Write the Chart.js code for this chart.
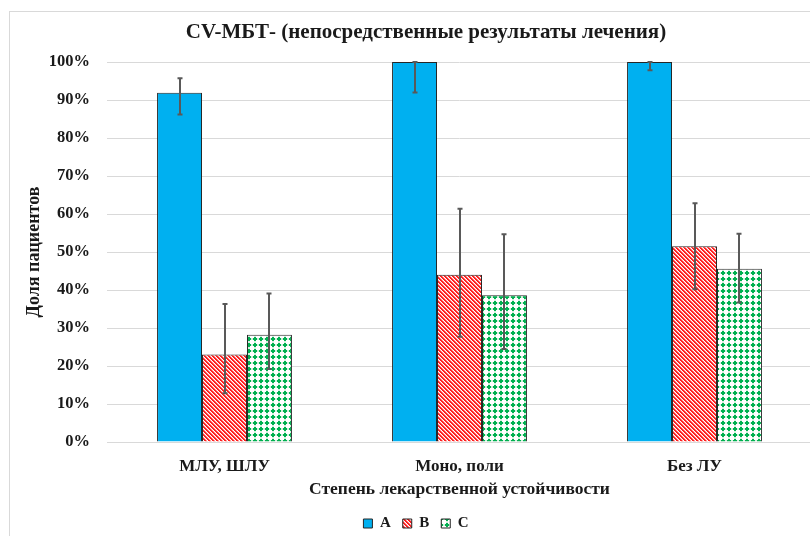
<!DOCTYPE html>
<html>
<head>
<meta charset="utf-8">
<script src="https://cdn.jsdelivr.net/npm/chart.js@4/dist/chart.umd.min.js"></script>
<style>
  html, body { margin: 0; padding: 0; background: #fff; overflow: hidden; width: 810px; height: 536px; }
  #frame { position: absolute; left: 9px; top: 11px; width: 900px; height: 600px;
           border-left: 1px solid #d9d9d9; border-top: 1px solid #d9d9d9; }
  #wrap { position: absolute; left: 0; top: 0; width: 815px; height: 536px; }
</style>
</head>
<body>
<div id="frame"></div>
<div id="wrap"><canvas id="chart" width="815" height="536"></canvas></div>
<script>
// Treatment outcome shares by drug-resistance group
const categories = ['МЛУ, ШЛУ', 'Моно, поли', 'Без ЛУ'];
const seriesNames = ['A', 'B', 'C'];

const valuesA = [91.9, 100, 100];
const valuesB = [23.0, 44.0, 51.5];
const valuesC = [28.2, 38.6, 45.6];

// confidence interval bounds, %
const lowA  = [86.2, 92.0, 97.8];
const highA = [95.7, 100, 100];
const lowB  = [12.8, 27.7, 40.2];
const highB = [36.3, 61.4, 62.8];
const lowC  = [19.2, 24.5, 36.7];
const highC = [39.1, 54.7, 54.8];

const yTicks = [0, 10, 20, 30, 40, 50, 60, 70, 80, 90, 100];

const titleText = 'CV-МБТ- (непосредственные результаты лечения)';
const yTitle = 'Доля пациентов';
const xTitle = 'Степень лекарственной устойчивости';

const FONT = "'Liberation Serif', 'Times New Roman', serif";
const INK = '#1a1a1a';

// hatch fills
function stripePattern() {
  const c = document.createElement('canvas');
  c.width = 8; c.height = 8;
  const g = c.getContext('2d');
  g.fillStyle = '#ffffff';
  g.fillRect(0, 0, 8, 8);
  for (let y = 0; y < 8; y++) {
    for (let x = 0; x < 8; x++) {
      const k = (((x - y) % 4) + 4) % 4;
      if (k < 2) { g.fillStyle = '#ff2020'; g.fillRect(x, y, 1, 1); }
      else if (k === 2) { g.fillStyle = '#ff9c9c'; g.fillRect(x, y, 1, 1); }
    }
  }
  return g.createPattern(c, 'repeat');
}
function dotPattern() {
  const c = document.createElement('canvas');
  c.width = 6; c.height = 6;
  const g = c.getContext('2d');
  g.fillStyle = '#ffffff';
  g.fillRect(0, 0, 6, 6);
  g.fillStyle = '#d6f0df';
  g.fillRect(0, 2, 6, 2);
  g.fillRect(2, 0, 2, 6);
  g.fillStyle = '#00b050';
  g.fillRect(1, 2, 4, 2);
  g.fillRect(2, 1, 2, 4);
  return g.createPattern(c, 'repeat');
}

const lows = [lowA, lowB, lowC];
const highs = [highA, highB, highC];

// whiskers for the intervals
const errorBars = {
  id: 'errorBars',
  afterDatasetsDraw(chart) {
    const ctx = chart.ctx;
    const y = chart.scales.y;
    ctx.save();
    ctx.strokeStyle = '#595959';
    ctx.lineWidth = 2;
    chart.data.datasets.forEach((ds, i) => {
      const meta = chart.getDatasetMeta(i);
      meta.data.forEach((bar, j) => {
        const x = Math.round(bar.x);
        const yl = y.getPixelForValue(lows[i][j]);
        const yh = y.getPixelForValue(highs[i][j]);
        ctx.beginPath();
        ctx.moveTo(x, yh); ctx.lineTo(x, yl);
        ctx.moveTo(x - 2.5, yh); ctx.lineTo(x + 2.5, yh);
        ctx.moveTo(x - 2.5, yl); ctx.lineTo(x + 2.5, yl);
        ctx.stroke();
      });
    });
    ctx.restore();
  }
};

const chartTitle = {
  id: 'chartTitle',
  afterDraw(chart) {
    const ctx = chart.ctx;
    ctx.save();
    ctx.font = 'bold 21px ' + FONT;
    ctx.fillStyle = INK;
    ctx.textAlign = 'center';
    ctx.textBaseline = 'middle';
    ctx.fillText(titleText, 426, 33);
    ctx.restore();
  }
};

const fills = ['#00b0f0', stripePattern(), dotPattern()];
const seriesValues = [valuesA, valuesB, valuesC];

new Chart(document.getElementById('chart'), {
  type: 'bar',
  data: {
    labels: categories,
    datasets: seriesNames.map((name, i) => ({
      label: name,
      data: seriesValues[i],
      backgroundColor: fills[i],
      borderColor: '#262626',
      borderWidth: 1,
      categoryPercentage: 0.574,
      barPercentage: 1
    }))
  },
  options: {
    responsive: false,
    animation: false,
    layout: { padding: { top: 62, left: 20, right: 3, bottom: -5 } },
    plugins: {
      title: { display: false },
      tooltip: { enabled: false },
      legend: {
        position: 'bottom',
        labels: {
          boxWidth: 9, boxHeight: 9, padding: 12,
          color: INK,
          font: { family: FONT, size: 15, weight: 'bold' }
        }
      }
    },
    scales: {
      x: {
        grid: { display: false, drawTicks: false },
        border: { display: true, color: '#d9d9d9' },
        ticks: { color: INK, padding: 14, font: { family: FONT, size: 17, weight: 'bold' } },
        title: { display: true, text: xTitle, color: INK, padding: { top: 2, bottom: 4 },
                 font: { family: FONT, size: 17.5, weight: 'bold' } },
        afterFit(s) { s.height = 62; }
      },
      y: {
        min: 0, max: 100,
        afterBuildTicks(s) { s.ticks = yTicks.map(v => ({ value: v })); },
        grid: { color: '#d9d9d9', drawTicks: false, lineWidth: 1 },
        border: { display: false },
        ticks: { color: INK, padding: 17, callback: v => v + '%',
                 font: { family: FONT, size: 16.5, weight: 'bold' } },
        title: { display: true, text: yTitle, color: INK, padding: { top: 4, bottom: 0 },
                 font: { family: FONT, size: 18, weight: 'bold' } },
        afterFit(s) { s.width = 87; }
      }
    }
  },
  plugins: [errorBars, chartTitle]
});
</script>
</body>
</html>
